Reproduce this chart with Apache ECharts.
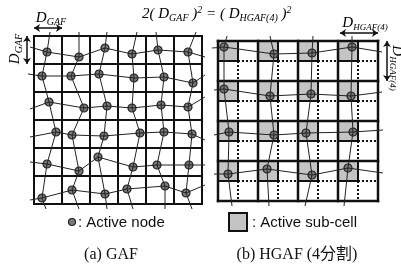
<!DOCTYPE html>
<html>
<head>
<meta charset="utf-8">
<script src="https://cdn.jsdelivr.net/npm/echarts@6/dist/echarts.min.js"></script>
<style>
  html, body { margin: 0; padding: 0; background: #fff; }
  #main { width: 401px; height: 271px; }
</style>
</head>
<body>
<div id="main"></div>
<script>
// GAF grid lines (cell = D_GAF)
const gafXs = [34, 62, 90, 118, 146, 174, 202];
const gafYs = [36, 64, 92, 120, 148, 176, 204];
// active nodes, row by row
const gafNodes = [
  [[47, 52], [79, 57], [105, 48], [132, 54], [158, 50], [188, 52]],
  [[42, 76], [71, 76], [99, 74], [134, 78], [164, 77], [193, 83]],
  [[49, 102], [84, 108], [107, 106], [132, 108], [161, 105], [188, 107]],
  [[56, 132], [72, 135], [104, 136], [140, 133], [164, 132], [192, 134]],
  [[47, 164], [79, 171], [98, 157], [133, 167], [157, 165], [189, 165]],
  [[42, 198], [72, 190], [105, 194], [127, 189], [165, 186], [186, 193]]
];
// where the links leave the grid
const gafLeftEnds = [[30, 47], [28, 74], [30, 109], [30, 137], [30, 162], [30, 200]];
const gafRightEnds = [[205, 57], [205, 75], [205, 97], [205, 140], [205, 165], [205, 185]];
const gafTopEnds = [[50, 32], [79, 32], [107, 32], [137, 32], [156, 32], [196, 32]];
const gafBottomEnds = [[46, 209], [79, 209], [107, 209], [133, 209], [165, 209], [192, 209]];

// HGAF grid (cell = D_HGAF(4), 4 sub-cells each)
const hgafXs = [218, 258, 298, 338, 378];
const hgafYs = [41, 81, 121, 161, 201];
const hgafSubXs = [238, 278, 318, 358];
const hgafSubYs = [61, 101, 141, 181];
const hgafNodes = [
  [[224, 47], [274, 54], [312, 53], [352, 47]],
  [[224, 89], [270, 96], [311, 94], [351, 96]],
  [[229, 132], [274, 135], [306, 133], [353, 132]],
  [[228, 174], [267, 169], [312, 175], [348, 168]]
];
const hgafLeftEnds = [[212, 48], [214, 90], [214, 135], [214, 174]];
const hgafRightEnds = [[382, 52], [382, 92], [383, 130], [383, 173]];
const hgafTopEnds = [[227, 36], [270, 36], [313, 36], [352, 36]];
const hgafBottomEnds = [[232, 206], [269, 206], [305, 206], [344, 206]];

const serif = '"Liberation Serif", "Noto Sans CJK JP", serif';
const sans = '"Liberation Sans", Arial, sans-serif';

const seg = (a, b) => ({ coords: [a, b] });
const gridSegs = (xs, ys) => [
  ...xs.map(x => seg([x, ys[0]], [x, ys[ys.length - 1]])),
  ...ys.map(y => seg([xs[0], y], [xs[xs.length - 1], y]))
];
const links = (nodes, L, R, T, B) => {
  const out = [];
  nodes.forEach((row, i) => out.push({ coords: [L[i], ...row, R[i]] }));
  nodes[0].forEach((_, j) => out.push({ coords: [T[j], ...nodes.map(r => r[j]), B[j]] }));
  return out;
};

// active sub-cell = top-left quarter of every HGAF cell
const subCells = [];
for (let i = 0; i < 4; i++) {
  for (let j = 0; j < 4; j++) {
    subCells.push([hgafXs[j], hgafYs[i], hgafSubXs[j], hgafSubYs[i]]);
  }
}
const dottedSegs = [
  ...hgafSubXs.map(x => seg([x, hgafYs[0]], [x, hgafYs[4]])),
  ...hgafSubYs.map(y => seg([hgafXs[0], y], [hgafXs[4], y]))
];
const arrowSegs = [
  seg([gafXs[0], 28], [gafXs[1], 28]),
  seg([27, gafYs[0]], [27, gafYs[1]]),
  seg([hgafXs[3] + 2, 33], [hgafXs[4], 33]),
  seg([387, hgafYs[0]], [387, hgafYs[1]])
];

const linesBase = { type: 'lines', coordinateSystem: 'cartesian2d', silent: true, polyline: true };

const chart = echarts.init(document.getElementById('main'));
chart.setOption({
  animation: false,
  grid: { left: 0, right: 0, top: 0, bottom: 0 },
  xAxis: { type: 'value', min: 0, max: 401, show: false },
  yAxis: { type: 'value', min: 0, max: 271, inverse: true, show: false },
  series: [
    { ...linesBase, z: 1, data: gridSegs(gafXs, gafYs),
      lineStyle: { color: '#111', width: 2, opacity: 1, cap: 'square' } },
    { ...linesBase, z: 1, data: dottedSegs,
      lineStyle: { color: '#111', width: 2, opacity: 1, type: [2, 2] } },
    {
      type: 'custom', z: 2, silent: true, data: subCells,
      renderItem: (params, api) => {
        const p0 = api.coord([api.value(0), api.value(1)]);
        const p1 = api.coord([api.value(2), api.value(3)]);
        return {
          type: 'rect',
          shape: { x: p0[0], y: p0[1], width: p1[0] - p0[0], height: p1[1] - p0[1] },
          style: { fill: '#c4c4c4', stroke: '#111', lineWidth: 2 }
        };
      }
    },
    { ...linesBase, z: 3, data: gridSegs(hgafXs, hgafYs),
      lineStyle: { color: '#111', width: 2.5, opacity: 1, cap: 'square' } },
    {
      type: 'scatter', z: 4, silent: true, symbol: 'circle', symbolSize: 8,
      data: [...gafNodes.flat(), ...hgafNodes.flat()],
      itemStyle: { color: '#7a7a7a', borderColor: '#222', borderWidth: 1.2, opacity: 1 }
    },
    { ...linesBase, z: 5, data: links(gafNodes, gafLeftEnds, gafRightEnds, gafTopEnds, gafBottomEnds),
      lineStyle: { color: '#222', width: 1, opacity: 1 } },
    { ...linesBase, z: 5, data: links(hgafNodes, hgafLeftEnds, hgafRightEnds, hgafTopEnds, hgafBottomEnds),
      lineStyle: { color: '#222', width: 1, opacity: 1 } },
    { ...linesBase, polyline: false, z: 5, data: arrowSegs,
      symbol: ['arrow', 'arrow'], symbolSize: 6,
      lineStyle: { color: '#111', width: 1.5, opacity: 1 } }
  ],
  graphic: [
    {
      type: 'text', x: 142, y: 14,
      style: {
        text: '{n|2( }{d|D}{s|GAF}{n| )}{p|2}{n| = ( }{d|D}{s|HGAF(4)}{n| )}{p|2}',
        verticalAlign: 'middle',
        rich: {
          n: { fontFamily: serif, fontStyle: 'italic', fontSize: 15, lineHeight: 18 },
          d: { fontFamily: serif, fontStyle: 'italic', fontSize: 15, lineHeight: 18 },
          s: { fontFamily: serif, fontStyle: 'italic', fontSize: 10, lineHeight: 10, verticalAlign: 'bottom' },
          p: { fontFamily: serif, fontStyle: 'italic', fontSize: 10, lineHeight: 10, verticalAlign: 'top' }
        }
      }
    },
    {
      type: 'text', x: 51, y: 18,
      style: {
        text: '{d|D}{s|GAF}', align: 'center', verticalAlign: 'middle',
        rich: {
          d: { fontFamily: serif, fontStyle: 'italic', fontSize: 15, lineHeight: 18 },
          s: { fontFamily: serif, fontStyle: 'italic', fontSize: 10, lineHeight: 10, verticalAlign: 'bottom' }
        }
      }
    },
    {
      type: 'text', x: 15, y: 49, rotation: Math.PI / 2,
      style: {
        text: '{d|D}{s|GAF}', align: 'center', verticalAlign: 'middle',
        rich: {
          d: { fontFamily: serif, fontStyle: 'italic', fontSize: 15, lineHeight: 18 },
          s: { fontFamily: serif, fontStyle: 'italic', fontSize: 10, lineHeight: 10, verticalAlign: 'bottom' }
        }
      }
    },
    {
      type: 'text', x: 365, y: 23,
      style: {
        text: '{d|D}{s|HGAF(4)}', align: 'center', verticalAlign: 'middle',
        rich: {
          d: { fontFamily: serif, fontStyle: 'italic', fontSize: 15, lineHeight: 18 },
          s: { fontFamily: serif, fontStyle: 'italic', fontSize: 9, lineHeight: 9, verticalAlign: 'bottom' }
        }
      }
    },
    {
      type: 'text', x: 397, y: 68, rotation: -Math.PI / 2,
      style: {
        text: '{d|D}{s|HGAF(4)}', align: 'center', verticalAlign: 'middle',
        rich: {
          d: { fontFamily: serif, fontStyle: 'italic', fontSize: 15, lineHeight: 18 },
          s: { fontFamily: serif, fontStyle: 'italic', fontSize: 9, lineHeight: 9, verticalAlign: 'bottom' }
        }
      }
    },
    {
      type: 'circle', shape: { cx: 72, cy: 222, r: 3.5 },
      style: { fill: '#7a7a7a', stroke: '#222', lineWidth: 1.2 }
    },
    {
      type: 'text', x: 78, y: 223,
      style: { text: ': Active node', fontFamily: sans, fontSize: 15, fill: '#111', verticalAlign: 'middle' }
    },
    {
      type: 'rect', shape: { x: 229, y: 213, width: 18, height: 18 },
      style: { fill: '#c4c4c4', stroke: '#111', lineWidth: 2 }
    },
    {
      type: 'text', x: 252, y: 223,
      style: { text: ': Active sub-cell', fontFamily: sans, fontSize: 15, fill: '#111', verticalAlign: 'middle' }
    },
    {
      type: 'text', x: 111, y: 255,
      style: { text: '(a) GAF', fontFamily: serif, fontSize: 16, fill: '#111', align: 'center', verticalAlign: 'middle' }
    },
    {
      type: 'text', x: 297, y: 255,
      style: { text: '(b) HGAF (4分割)', fontFamily: serif, fontSize: 16, fill: '#111', align: 'center', verticalAlign: 'middle' }
    }
  ]
});
</script>
</body>
</html>
